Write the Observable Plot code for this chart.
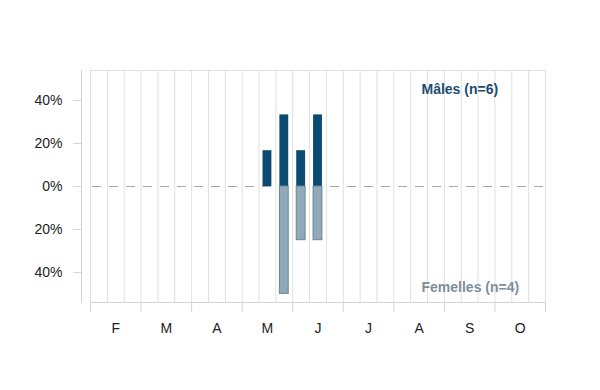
<!DOCTYPE html>
<html>
<head>
<meta charset="utf-8">
<script src="https://cdn.jsdelivr.net/npm/d3@7"></script>
<script src="https://cdn.jsdelivr.net/npm/@observablehq/plot@0.6"></script>
<style>
  body { margin: 0; background: #fff; }
  #chart svg { font-family: "Liberation Sans", Arial, sans-serif; }
</style>
</head>
<body>
<div id="chart"></div>
<script>
// Month labels (February to October), each month split into three decades
const months = ["F", "M", "A", "M", "J", "J", "A", "S", "O"];
const decadesPerMonth = 3;

// Decade index counted from the first decade of February
const decadeBins = [10, 11, 12, 13];   // May d2, May d3, June d1, June d2
const maleCounts = [1, 2, 1, 2];
const femaleCounts = [0, 2, 1, 1];
const maleTotal = 6;
const femaleTotal = 4;

const yTicks = [-0.4, -0.2, 0, 0.2, 0.4];

const nDecades = months.length * decadesPerMonth;
const males = decadeBins.map((b, i) => ({bin: b, share: maleCounts[i] / maleTotal}));
const females = decadeBins.map((b, i) => ({bin: b, share: -femaleCounts[i] / femaleTotal}))
  .filter(d => d.share !== 0);

const monthEdges = d3.range(0, nDecades + 1, decadesPerMonth);
const monthCenters = months.map((m, i) => i * decadesPerMonth + decadesPerMonth / 2);

const maleColor = "#0b4b72";
const femaleFill = "#91a9b8";
const femaleStroke = "#6b8594";
const lineGrey = "#d4d4d4";

const chart = Plot.plot({
  width: 600,
  height: 390,
  marginTop: 70,
  marginBottom: 88,
  marginLeft: 90,
  marginRight: 55,
  style: {fontSize: "14px", color: "#222", background: "#fff"},
  x: {domain: [0, nDecades], axis: null},
  y: {domain: [-0.54, 0.54], axis: null},
  marks: [
    Plot.gridX({ticks: d3.range(0, nDecades + 1), stroke: "#e0e0e0", strokeOpacity: 1}),
    Plot.frame({anchor: "top", stroke: "#e0e0e0"}),
    Plot.frame({anchor: "bottom", stroke: lineGrey}),
    Plot.frame({anchor: "left", stroke: lineGrey, dx: -9}),
    Plot.ruleY([0], {stroke: "#a8a8a8", strokeDasharray: "9,8", strokeDashoffset: -2}),
    Plot.rect(males, {
      x1: "bin", x2: d => d.bin + 1, y1: 0, y2: "share",
      insetLeft: 4, insetRight: 4, fill: maleColor
    }),
    Plot.rect(females, {
      x1: "bin", x2: d => d.bin + 1, y1: 0, y2: "share",
      insetLeft: 4, insetRight: 4, fill: femaleFill, stroke: femaleStroke, strokeWidth: 1
    }),
    Plot.axisY({
      ticks: yTicks, tickSize: 8, tickPadding: 11, dx: -9,
      stroke: lineGrey, label: null,
      tickFormat: d => Math.round(Math.abs(d) * 100) + "%"
    }),
    Plot.axisX({
      ticks: monthEdges, tickSize: 10, stroke: lineGrey,
      tickFormat: () => "", label: null
    }),
    Plot.axisX({
      ticks: monthCenters, tickSize: 0, tickPadding: 21, label: null,
      tickFormat: (d, i) => months[i]
    }),
    Plot.text([`Mâles (n=${maleTotal})`], {
      frameAnchor: "top-right", textAnchor: "start", lineAnchor: "middle", dx: -124, dy: 19,
      fill: "#1b4d70", fontWeight: "bold", fontSize: 14
    }),
    Plot.text([`Femelles (n=${femaleTotal})`], {
      frameAnchor: "bottom-right", textAnchor: "start", lineAnchor: "middle", dx: -124, dy: -15,
      fill: "#808e98", fontWeight: "bold", fontSize: 14
    })
  ]
});

document.getElementById("chart").appendChild(chart);
</script>
</body>
</html>
